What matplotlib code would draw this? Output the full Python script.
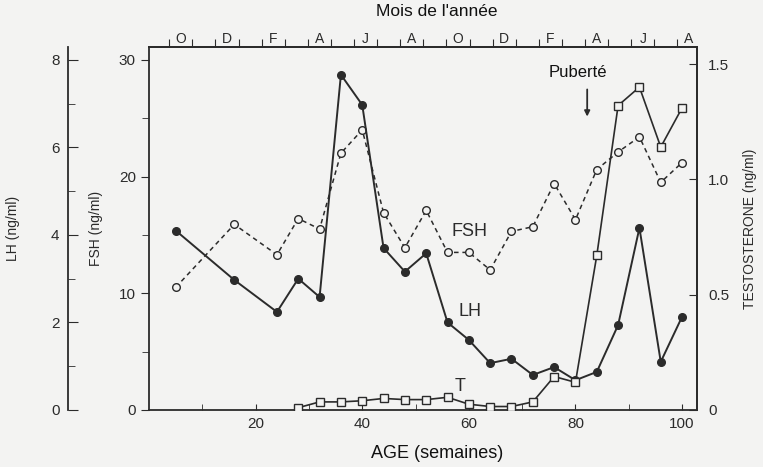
import matplotlib
matplotlib.use("Agg")
import matplotlib.pyplot as plt
import numpy as np

plt.rcParams["font.family"] = ["Liberation Sans", "DejaVu Sans"]

# Values
age = [5, 16, 24, 28, 32, 36, 40, 44, 48, 52, 56, 60, 64, 68, 72, 76, 80, 84, 88, 92, 96, 100]
lh = [4.1, 2.97, 2.24, 3.0, 2.58, 7.66, 6.97, 3.7, 3.16, 3.58, 2.0, 1.6, 1.07, 1.17,
      0.8, 0.98, 0.68, 0.87, 1.94, 4.16, 1.1, 2.13]
fsh = [10.5, 15.9, 13.3, 16.4, 15.5, 22.0, 24.0, 16.9, 13.9, 17.1, 13.5, 13.5, 12.0, 15.3,
       15.7, 19.4, 16.3, 20.6, 22.1, 23.4, 19.5, 21.2]
age_t = [28, 32, 36, 40, 44, 48, 52, 56, 60, 64, 68, 72, 76, 80, 84, 88, 92, 96, 100]
testo = [0.01, 0.035, 0.035, 0.04, 0.05, 0.045, 0.045, 0.055, 0.025, 0.015, 0.015, 0.035,
         0.145, 0.12, 0.67, 1.32, 1.40, 1.14, 1.31]
months = ["O", "D", "F", "A", "J", "A", "O", "D", "F", "A", "J", "A"]

ink = "#2b2b2b"
bg = "#f3f3f2"

fig = plt.figure(figsize=(7.63, 4.67), dpi=100, facecolor=bg)
ax = fig.add_axes([0.1953, 0.1221, 0.7182, 0.7773])
ax.set_facecolor(bg)
ax.set_xlim(0, 102.8)
ax.set_ylim(0, 31.1)

# LH axis, offset to the far left
ax_lh = ax.twinx()
ax_lh.set_ylim(0, 31.1 * 8 / 30)
ax_lh.spines["right"].set_visible(False)
ax_lh.spines["top"].set_visible(False)
ax_lh.spines["bottom"].set_visible(False)
ax_lh.spines["left"].set_visible(True)
ax_lh.spines["left"].set_position(("axes", -0.148))
ax_lh.yaxis.set_ticks_position("left")
ax_lh.yaxis.set_label_position("left")
ax_lh.set_yticks([0, 2, 4, 6, 8])
ax_lh.set_yticks([1, 3, 5, 7], minor=True)
ax_lh.tick_params(axis="y", which="both", direction="in", colors=ink, labelsize=11, pad=6)
ax_lh.tick_params(axis="y", which="major", length=7)
ax_lh.tick_params(axis="y", which="minor", length=5)

# Testosterone axis on the right
ax_t = ax.twinx()
ax_t.set_ylim(0, 1.574)
ax_t.set_yticks([0, 0.5, 1.0, 1.5])
ax_t.set_yticklabels(["0", "0.5", "1.0", "1.5"])
ax_t.tick_params(axis="y", direction="in", length=6, colors=ink, labelsize=11, pad=8)
for s in ["left", "top", "bottom"]:
    ax_t.spines[s].set_visible(False)

for a in (ax, ax_lh, ax_t):
    for s in a.spines.values():
        s.set_color(ink)
        s.set_linewidth(1.3)

# Series
ax_lh.plot(age, lh, color=ink, lw=1.4, marker="o", ms=5.5, mfc=ink, mec=ink, zorder=3)
ax.plot(age, fsh, color=ink, lw=1.1, ls=(0, (3, 2.5)), marker="o", ms=5.5,
        mfc=bg, mec=ink, mew=1.0, zorder=3)
ax_t.plot(age_t, testo, color=ink, lw=1.2, marker="s", ms=5.5, mfc=bg, mec=ink,
          mew=1.0, zorder=3)

# Main (FSH) axis
ax.set_yticks([0, 10, 20, 30])
ax.set_yticks([5, 15, 25], minor=True)
ax.tick_params(axis="y", which="both", direction="out", colors=ink, labelsize=11)
ax.tick_params(axis="y", which="major", length=6)
ax.tick_params(axis="y", which="minor", length=5)
ax.set_xticks([20, 40, 60, 80, 100])
ax.set_xticks([10, 30, 50, 70, 90], minor=True)
ax.tick_params(axis="x", which="both", direction="in", length=4, colors=ink, labelsize=11, pad=5)

ax.set_ylabel("FSH (ng/ml)", fontsize=10, color=ink)
ax.yaxis.set_label_coords(-0.084, 0.5)
ax_lh.set_ylabel("LH (ng/ml)", fontsize=10, color=ink)
ax_lh.yaxis.set_label_coords(-0.235, 0.5)
ax_t.set_ylabel("TESTOSTERONE (ng/ml)", fontsize=10, color=ink, rotation=90)
ax_t.yaxis.set_label_coords(1.084, 0.5)

# Month scale on top
ax_top = ax.twiny()
ax_top.set_xlim(ax.get_xlim())
month_len = 52 / 12
first_tick = 3.8
ax_top.set_xticks([first_tick + month_len * k for k in range(23)])
ax_top.set_xticklabels([])
ax_top.set_xticks([first_tick + month_len * (2 * j + 0.5) for j in range(len(months))], minor=True)
ax_top.set_xticklabels(months, minor=True)
ax_top.tick_params(axis="x", which="major", direction="out", length=6, colors=ink)
ax_top.tick_params(axis="x", which="minor", length=0, labelsize=10, pad=1, colors=ink)
for s in ["left", "right", "bottom"]:
    ax_top.spines[s].set_visible(False)
ax_top.spines["top"].set_color(ink)
ax_top.spines["top"].set_linewidth(1.3)

# Annotations
ax.text(60.1, 15.3, "FSH", fontsize=13, color=ink, ha="center", va="center")
ax.text(60.3, 8.4, "LH", fontsize=13, color=ink, ha="center", va="center")
ax.text(58.4, 2.0, "T", fontsize=13, color=ink, ha="center", va="center")
ax.text(80.5, 28.9, "Puberté", fontsize=12, color="#111111", ha="center", va="center")
ax.annotate("", xy=(82.2, 24.9), xytext=(82.2, 27.7),
            arrowprops=dict(arrowstyle="-|>", color=ink, lw=1.3, mutation_scale=8))

fig.text(437 / 763, 1 - 12 / 467, "Mois de l'année", fontsize=12.5, color="#111111",
         ha="center", va="center")
fig.text(437 / 763, 1 - 453 / 467, "AGE (semaines)", fontsize=13, color="#111111",
         ha="center", va="center")

fig.savefig("out.png", dpi=100, facecolor=bg)
